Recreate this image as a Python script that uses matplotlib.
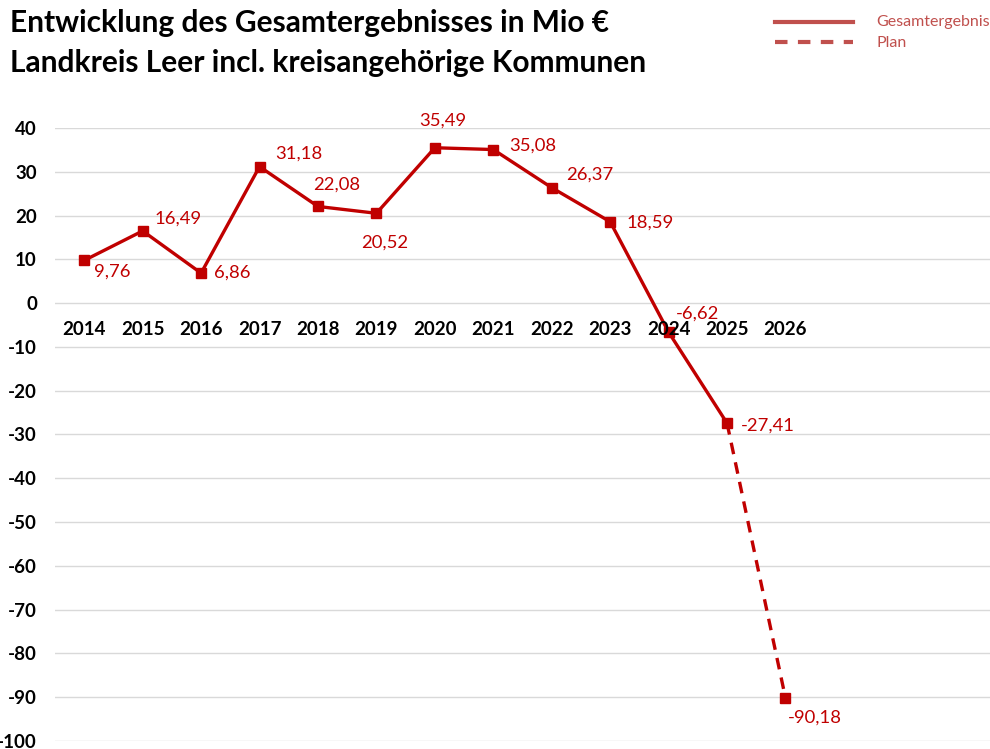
import numpy as np
import matplotlib.pyplot as plt

# Data
years = ['2014', '2015', '2016', '2017', '2018', '2019', '2020',
         '2021', '2022', '2023', '2024', '2025', '2026']
values = [9.76, 16.49, 6.86, 31.18, 22.08, 20.52, 35.49,
          35.08, 26.37, 18.59, -6.62, -27.41, -90.18]
labels = ['9,76', '16,49', '6,86', '31,18', '22,08', '20,52', '35,49',
          '35,08', '26,37', '18,59', '-6,62', '-27,41', '-90,18']
yticks = [40, 30, 20, 10, 0, -10, -20, -30, -40, -50, -60, -70, -80, -90, -100]

# label offsets in pixels (dx, dy), y up
offsets = [(28, -11), (35, 12), (31, 0), (39, 13), (19, 22), (8, -29),
           (8, 27), (40, 4), (38, 13), (40, -1), (29, 19), (41, -2), (29, -20)]

plt.rcParams['font.family'] = ['Lato', 'DejaVu Sans']
red = '#c00000'

fig = plt.figure(figsize=(9.9, 7.49), dpi=100)
ax = fig.add_axes([55/990, 1-741/749, 935/990, (741-128)/749])

x = np.arange(len(years))
ax.plot(x[:12], values[:12], color=red, lw=2.4, marker='s', ms=7,
        solid_joinstyle='miter', zorder=3)
ax.plot(x[11:], values[11:], color=red, lw=2.4, ls=(0, (3.5, 2.5)), zorder=3)
ax.plot(x[12:], values[12:], color=red, lw=0, marker='s', ms=7, zorder=3)

for xi, v, lab, (dx, dy) in zip(x, values, labels, offsets):
    ax.annotate(lab, (xi, v), xytext=(dx, dy), textcoords='offset pixels',
                ha='center', va='center', color=red, fontsize=13.3)

ax.set_xlim(-0.5, 15.5)
ax.set_ylim(-100, 40)
ax.set_yticks(yticks)
ax.set_yticklabels([str(t) for t in yticks], fontweight='bold', fontsize=13.5)
ax.yaxis.grid(True, color='#d9d9d9', lw=1)
ax.set_axisbelow(True)
ax.tick_params(axis='y', length=0, pad=13)
ax.set_xticks([])
for s in ax.spines.values():
    s.set_visible(False)

# year labels just below zero line
for xi, yr in zip(x, years):
    ax.annotate(yr, (xi, 0), xytext=(0, -26), textcoords='offset pixels',
                ha='center', va='center', fontweight='bold', fontsize=13.5)

fig.text(10/990, 1-23/749, 'Entwicklung des Gesamtergebnisses in Mio €',
         fontsize=21.5, fontweight='bold', va='center', ha='left')
fig.text(10/990, 1-63/749, 'Landkreis Leer incl. kreisangehörige Kommunen',
         fontsize=21.5, fontweight='bold', va='center', ha='left')

# legend
leg_red = '#c0504d'
fig.add_artist(plt.Line2D([775/990, 853/990], [1-22/749, 1-22/749],
                          color=leg_red, lw=3, transform=fig.transFigure))
fig.add_artist(plt.Line2D([775/990, 853/990], [1-42/749, 1-42/749],
                          color=leg_red, lw=3, ls=(0, (3, 2.5)),
                          transform=fig.transFigure))
fig.text(876/990, 1-22/749, 'Gesamtergebnis', color=leg_red, fontsize=11.5,
         va='center', ha='left')
fig.text(876/990, 1-43/749, 'Plan', color=leg_red, fontsize=11.5,
         va='center', ha='left')

fig.savefig('out.png', dpi=100)
